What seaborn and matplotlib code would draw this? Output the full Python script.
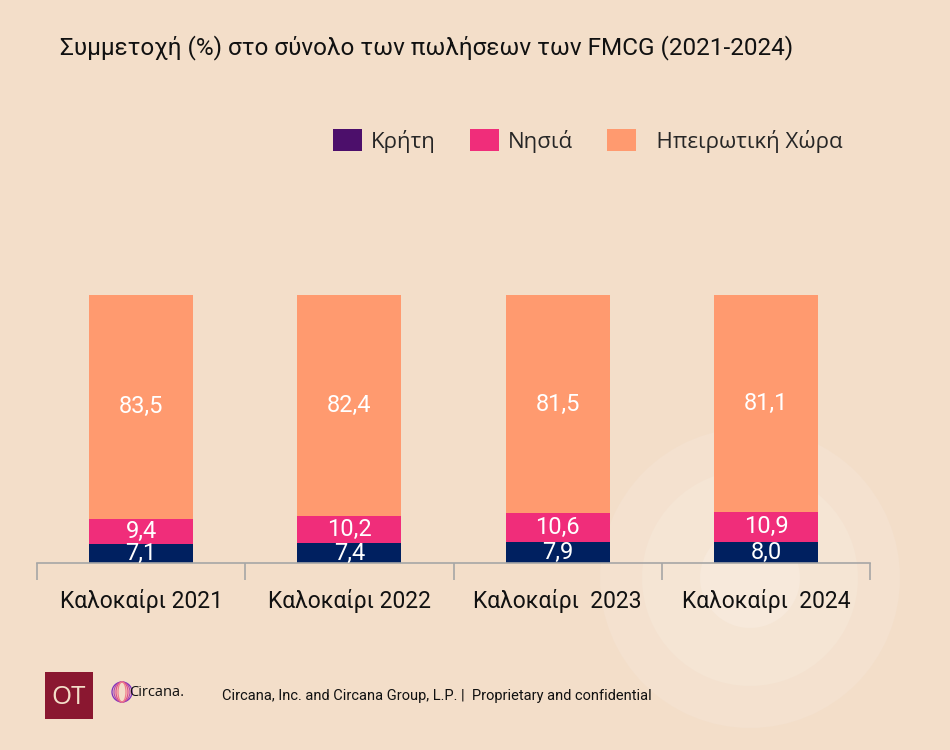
import numpy as np
import pandas as pd
import matplotlib
matplotlib.use("Agg")
import matplotlib.pyplot as plt
from matplotlib.patches import Patch, Circle, Rectangle, Ellipse
import seaborn as sns

# chart data
periods = ["Καλοκαίρι 2021", "Καλοκαίρι 2022", "Καλοκαίρι  2023", "Καλοκαίρι  2024"]
krete = [7.1, 7.4, 7.9, 8.0]
nisia = [9.4, 10.2, 10.6, 10.9]
ipeiros = [83.5, 82.4, 81.5, 81.1]
series_names = ["Κρήτη", "Νησιά", "  Ηπειρωτική Χώρα"]

bg = "#F3DEC9"
bar_colors = ["#002060", "#F02D7A", "#FF9A6F"]
legend_colors = ["#4C0F6B", "#F02D7A", "#FF9A6F"]

sns.set_theme(style="white")
narrow = ["Roboto", "DejaVu Sans"]
plt.rcParams["font.family"] = ["Open Sans", "DejaVu Sans"]

df = pd.DataFrame({"period": periods, "k": krete, "n": nisia, "i": ipeiros})
df["b1"] = df["k"]
df["b2"] = df["k"] + df["n"]

fig = plt.figure(figsize=(9.5, 7.5), dpi=100)
fig.patch.set_facecolor(bg)

# background layer in pixel-like units for the decorative circles and logos
bgax = fig.add_axes([0, 0, 1, 1], zorder=-1)
bgax.set_xlim(0, 950)
bgax.set_ylim(750, 0)
bgax.set_aspect("equal")
bgax.axis("off")
for r, c in [(150, "#F4E1CF"), (108, "#F5E5D4"), (50, "#F7E9DB")]:
    bgax.add_patch(Circle((750, 578), r, facecolor=c, edgecolor="none"))

ax = fig.add_axes([37 / 950, 1 - 563 / 750, (870 - 37) / 950, (563 - 295) / 750])
ax.set_facecolor("none")

sns.barplot(data=df, x="period", y="k", color=bar_colors[0], width=0.5,
            saturation=1, ax=ax, linewidth=0)
sns.barplot(data=df, x="period", y="n", bottom=df["b1"], color=bar_colors[1], width=0.5,
            saturation=1, ax=ax, linewidth=0)
sns.barplot(data=df, x="period", y="i", bottom=df["b2"], color=bar_colors[2], width=0.5,
            saturation=1, ax=ax, linewidth=0)

for idx in range(len(periods)):
    for val, base in [(krete[idx], 0), (nisia[idx], df["b1"][idx]), (ipeiros[idx], df["b2"][idx])]:
        ax.text(idx, base + val / 2, f"{val:.1f}".replace(".", ","), ha="center", va="center",
                color="white", fontsize=17, family=narrow)

ax.set_xlim(-0.5, len(periods) - 0.5)
ax.set_ylim(0, 100)
ax.set_xlabel("")
ax.set_ylabel("")
ax.set_yticks([])
for s in ["top", "right", "left"]:
    ax.spines[s].set_visible(False)
ax.spines["bottom"].set_color("#A6A6A6")
ax.spines["bottom"].set_linewidth(1.2)
ax.set_xticks(range(len(periods)))
ax.set_xticklabels(periods, fontsize=16.5, family=narrow, color="#111111")
ax.set_xticks(np.arange(-0.5, len(periods)), minor=True)
ax.tick_params(axis="x", which="both", bottom=True)
ax.tick_params(axis="x", which="major", length=0, pad=19)
ax.tick_params(axis="x", which="minor", length=12, width=1.2, color="#A6A6A6", direction="out")

# title
fig.text(60 / 950, 1 - 48 / 750, "Συμμετοχή (%) στο σύνολο των πωλήσεων των FMCG (2021-2024)",
         fontsize=17.5, family=narrow, color="#111111", va="center")

# legend
handles = [Patch(facecolor=c, edgecolor="none") for c in legend_colors]
fig.legend(handles, series_names, loc="center right", bbox_to_anchor=(858 / 950, 1 - 141 / 750),
           ncol=3, frameon=False, fontsize=16, handlelength=1.3, handleheight=1.1,
           columnspacing=1.55, handletextpad=0.4, borderpad=0.2)

# footer: logos and source line
bgax.add_patch(Rectangle((45, 672), 48, 47, facecolor="#8A1730", edgecolor="none"))
bgax.text(69, 697, "OT", color="#F3DEC9", fontsize=18.5, ha="center", va="center")
for k, w in enumerate([20, 16, 12, 8]):
    bgax.add_patch(Ellipse((122, 692), w, 20, facecolor="none",
                           edgecolor=["#7B2FBE", "#B04AA8", "#E0508A", "#F07E8C"][k], lw=0.9))
bgax.text(129, 692, "Circana.", color="#111111", fontsize=10.5, va="center")
bgax.text(222, 696, "Circana, Inc. and Circana Group, L.P. |  Proprietary and confidential",
          fontsize=10.5, family=narrow, color="#111111", va="center")

fig.savefig("out.png", dpi=100, facecolor=bg)
